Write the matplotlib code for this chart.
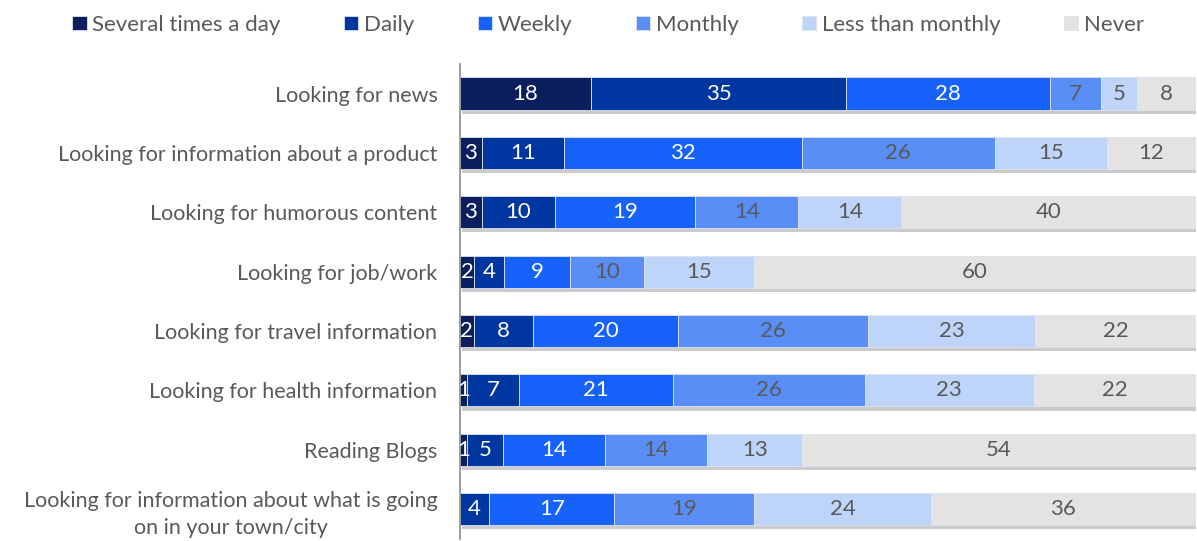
import numpy as np
import matplotlib.pyplot as plt
import matplotlib.patheffects as pe

plt.rcParams['font.family'] = ['Lato', 'DejaVu Sans']

# Survey activities (top to bottom) and answer frequencies in %
activities = [
    'Looking for news',
    'Looking for information about a product',
    'Looking for humorous content',
    'Looking for job/work',
    'Looking for travel information',
    'Looking for health information',
    'Reading Blogs',
    'Looking for information about what is going\non in your town/city',
]
frequencies = ['Several times a day', 'Daily', 'Weekly', 'Monthly',
               'Less than monthly', 'Never']

several = [18, 3, 3, 2, 2, 1, 1, 0]
daily = [35, 11, 10, 4, 8, 7, 5, 4]
weekly = [28, 32, 19, 9, 20, 21, 14, 17]
monthly = [7, 26, 14, 10, 26, 26, 14, 19]
less_monthly = [5, 15, 14, 15, 23, 23, 13, 24]
never = [8, 12, 40, 60, 22, 22, 54, 36]

colors = ['#0b1f5e', '#0036a0', '#1662fa', '#5a8ef7', '#bed4f8', '#e3e3e3']
text_colors = ['white', 'white', 'white', '#595959', '#595959', '#595959']

values = np.array([several, daily, weekly, monthly, less_monthly, never], dtype=float)
shares = values / values.sum(axis=0) * 100

fig = plt.figure(figsize=(11.97, 5.41), dpi=100)
ax = fig.add_axes([0.384, 0.004, 0.615, 0.878])

y = np.arange(len(activities))
left = np.zeros(len(activities))
shadow = [pe.SimplePatchShadow(offset=(1.5, -3), shadow_rgbFace='#7f7f7f', alpha=0.4),
          pe.Normal()]
for i, name in enumerate(frequencies):
    bars = ax.barh(y, shares[i], left=left, height=0.54, color=colors[i],
                   edgecolor='#dbe3f0', linewidth=0.6, label=name)
    for b in bars:
        b.set_path_effects(shadow)
    for j, b in enumerate(bars):
        if values[i, j] > 0:
            ax.text(left[j] + shares[i, j] / 2, y[j], f'{values[i, j]:.0f}',
                    ha='center', va='center', fontsize=16, color=text_colors[i])
    left += shares[i]

ax.set_xlim(0, 100)
ax.set_ylim(len(activities) - 0.5, -0.5)
ax.set_yticks(y)
ax.set_yticklabels(activities, fontsize=15.5, color='#595959',
                   multialignment='center', linespacing=1.45)
ax.tick_params(axis='y', length=0, pad=16)
ax.set_xticks([])
for side in ['top', 'right', 'bottom']:
    ax.spines[side].set_visible(False)
ax.spines['left'].set_color('#8c8c8c')
ax.spines['left'].set_linewidth(1.2)

handles, labels = ax.get_legend_handles_labels()
leg = fig.legend(handles, labels, loc='center', bbox_to_anchor=(0.508, 0.954),
                 ncol=6, frameon=False, fontsize=16, handlelength=0.65,
                 handleheight=0.65, handletextpad=0.25, columnspacing=2.85)
for t in leg.get_texts():
    t.set_color('#595959')
for h in leg.legend_handles:
    h.set_path_effects([])

fig.savefig('out.png', dpi=100)
